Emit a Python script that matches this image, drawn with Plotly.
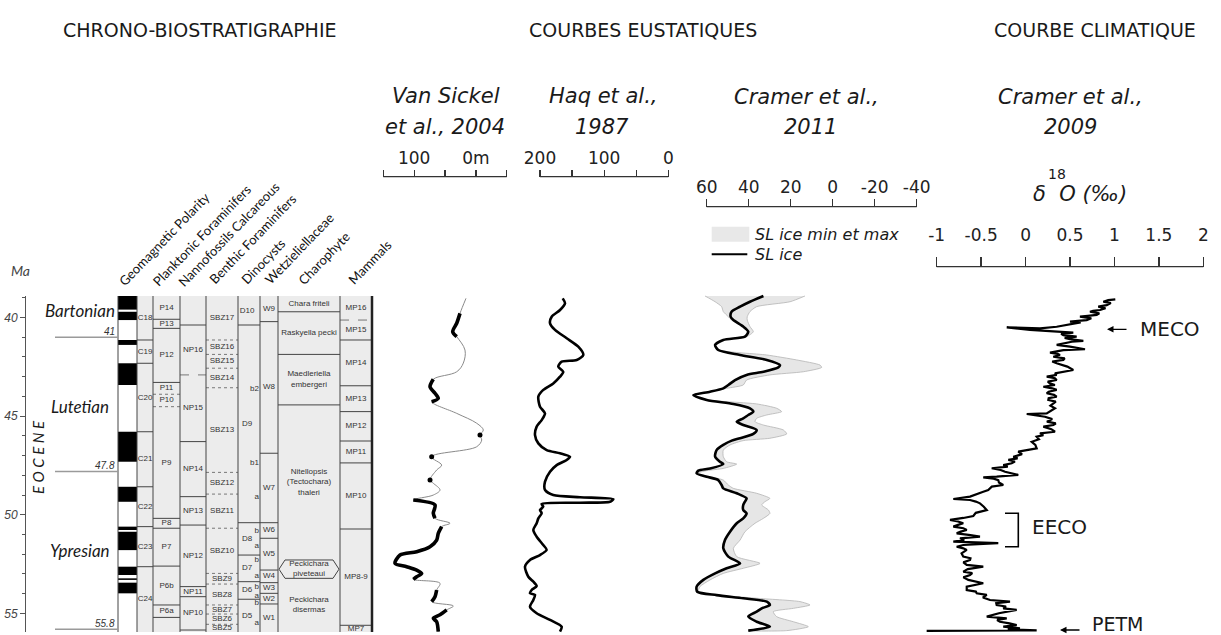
import plotly.graph_objects as go

W, H = 1221, 635

# ---------------- chronostratigraphy (ages in Ma) ----------------
AGE_TOP = 38.91
AGE_BASE = 55.94

STAGES = ["Bartonian", "Lutetian", "Ypresian"]
STAGE_LIMITS = [41.0, 47.8, 55.8]
STAGE_LIMIT_LABELS = ["41", "47.8", "55.8"]

# geomagnetic polarity: normal (black) intervals
POL_NORMAL_TOP = [38.91, 39.71, 41.14, 42.32, 45.79, 48.58, 50.60, 50.86, 52.63, 53.22, 53.44]
POL_NORMAL_BASE = [39.60, 40.13, 41.39, 43.42, 47.31, 49.34, 50.77, 51.79, 53.05, 53.30, 53.98]

CHRONS = ["C18", "C19", "C20", "C21", "C22", "C23", "C24"]
CHRON_BASES = [41.14, 42.32, 45.79, 48.58, 50.60, 52.63, 55.94]

PF_ZONES = ["P14", "P13", "P12", "P11", "P10", "P9", "P8", "P7", "P6b", "P6a", ""]
PF_BASES = [40.09, 40.55, 43.29, 43.89, 44.52, 50.18, 50.68, 52.60, 54.57, 55.20, 55.94]
PF_DOTTED = [43.89, 44.52]

NP_ZONES = ["", "NP16", "NP15", "NP14", "NP13", "NP12", "NP11", "NP10", ""]
NP_BASES = [40.38, 42.91, 46.29, 49.08, 50.52, 53.64, 54.15, 55.84, 55.94]
NP_DASHED = [42.91]

SBZ_ZONES = ["SBZ17", "SBZ16", "SBZ15", "SBZ14", "SBZ13", "SBZ12", "SBZ11",
             "SBZ10", "SBZ9", "SBZ8", "SBZ7", "SBZ6", "SBZ5"]
SBZ_BASES = [41.14, 41.87, 42.57, 43.56, 47.85, 48.95, 50.68, 52.97, 53.51, 54.57, 55.03, 55.55, 55.94]

DINO_ZONES = ["D10", "D9", "D8", "D7", "D6", "D5"]
DINO_BASES = [40.38, 50.40, 52.04, 53.39, 54.28, 55.94]
DINO_SUBZONES = ["b2", "b1", "a", "b", "a", "b", "a", "b", "a", "b", "a"]
DINO_SUBZONE_AGES = [43.64, 47.36, 49.08, 50.80, 51.58, 52.29, 53.10, 53.64, 54.10, 54.49, 55.47]

WETZ_ZONES = ["W9", "W8", "W7", "W6", "W5", "W4", "W3", "W2", "W1"]
WETZ_BASES = [40.21, 46.88, 50.40, 51.19, 52.80, 53.44, 53.98, 54.52, 55.94]

CHARA_ZONES = ["Chara friteli", "Raskyella pecki", "Maedleriella<br>embergeri",
               "Nitellopsis<br>(Tectochara)<br>thaleri", "Peckichara<br>piveteaui",
               "Peckichara<br>disermas"]
CHARA_BASES = [39.71, 41.87, 44.43, 52.29, 53.22, 55.94]
CHARA_BOXED = [False, False, False, False, True, False]

MP_ZONES = ["MP16", "MP15", "MP14", "MP13", "MP12", "MP11", "MP10", "MP8-9", "MP7"]
MP_BASES = [40.13, 41.14, 43.46, 44.77, 46.26, 47.37, 50.72, 55.60, 55.94]
MP_DASHED = [40.13]

# ---------------- eustatic curves ----------------
# Van Sickel et al., 2004 (m)
VS_AGE = [39.03, 39.79, 40.29, 40.72, 40.97, 41.65, 42.31, 42.75, 43.13, 43.51, 43.84, 44.10,
          44.27, 44.86, 45.36, 45.70, 45.96, 46.21, 46.55, 47.06, 47.48, 47.73, 48.24, 48.40,
          48.74, 49.00, 49.25, 49.50, 49.92, 50.18, 50.43, 50.60, 50.94, 51.28, 51.62, 51.87,
          52.04, 52.46, 52.63, 52.80, 52.97, 53.14, 53.27, 53.47, 53.81, 54.15, 54.40, 54.62,
          54.82, 55.07, 55.25, 55.42, 55.92]
VS_M = [16.0, 25.7, 31.0, 37.5, 31.0, 17.6, 20.3, 31.0, 69.0, 74.3, 66.2, 60.9,
        71.6, 31.0, -1.4, -12.1, -6.7, -9.5, -1.4, 71.6, 55.4, 63.5, 74.3, 69.0,
        58.1, 69.0, 101.4, 66.2, 69.0, 66.2, 41.9, 55.4, 60.9, 63.5, 74.3, 95.9,
        122.9, 131.0, 112.1, 95.9, 87.8, 95.9, 101.4, 58.1, 63.5, 66.2, 71.6, 36.6,
        47.3, 58.1, 69.0, 63.5, 60.9]
# well-constrained intervals (bold) and isolated control points
VS_BOLD_TOP = [39.79, 43.13, 49.25, 50.60, 53.81, 54.82]
VS_BOLD_BASE = [40.97, 44.27, 50.18, 53.27, 54.40, 55.92]
VS_POINT_AGES = [45.96, 47.06, 48.24]

# Haq et al., 1987 (m)
HAQ_AGE = [39.03, 39.28, 39.62, 39.96, 40.29, 40.63, 41.05, 41.48, 41.90, 42.15, 42.24, 42.49,
           42.75, 43.00, 43.34, 43.67, 44.01, 44.52, 44.86, 45.20, 45.53, 45.96, 46.38, 46.72,
           46.88, 47.06, 47.22, 47.48, 47.82, 48.32, 48.74, 49.00, 49.11, 49.21, 49.34, 49.39,
           49.45, 49.59, 49.76, 49.92, 50.18, 50.43, 50.77, 51.11, 51.53, 51.78, 52.04, 52.29,
           52.63, 53.14, 53.39, 53.61, 53.81, 53.98, 54.06, 54.32, 54.66, 54.99, 55.33, 55.67,
           55.92]
HAQ_M = [164.6, 161.0, 168.8, 181.8, 184.4, 176.6, 158.4, 140.3, 132.5, 142.8, 166.2, 171.5,
         163.7, 168.8, 179.3, 194.9, 202.6, 200.0, 192.2, 197.4, 205.2, 207.8, 202.6, 189.6,
         168.8, 153.2, 158.4, 174.0, 184.4, 192.2, 192.2, 179.3, 137.6, 85.7, 90.9, 137.6,
         197.4, 194.9, 200.0, 197.4, 202.6, 205.2, 210.4, 205.2, 194.9, 189.6, 200.0, 215.6,
         223.4, 218.2, 210.4, 205.2, 213.0, 215.6, 207.8, 210.4, 215.6, 205.2, 184.4, 166.2,
         168.8]

# Cramer et al., 2011 (m): SL ice and its min / max envelope
C11_AGE = [38.91, 39.20, 39.45, 39.70, 39.96, 40.13, 40.46, 40.72, 40.97, 41.14, 41.39, 41.65,
           41.90, 42.15, 42.41, 42.53, 42.75, 42.91, 43.17, 43.42, 43.59, 43.76, 43.93, 44.18,
           44.38, 44.60, 44.77, 44.94, 45.11, 45.28, 45.45, 45.70, 45.90, 46.12, 46.24, 46.46,
           46.72, 47.05, 47.31, 47.43, 47.65, 47.76, 47.90, 48.07, 48.24, 48.49, 48.66, 48.91,
           49.17, 49.33, 49.50, 49.76, 49.93, 50.18, 50.43, 50.86, 51.28, 51.70, 52.12, 52.46,
           52.71, 52.97, 53.30, 53.64, 53.90, 54.07, 54.23, 54.40, 54.57, 54.74, 54.91, 55.16,
           55.42, 55.67, 55.87]
C11_SL = [33.0, 39.4, 44.1, 48.1, 48.6, 47.3, 42.6, 40.2, 41.8, 52.1, 56.0, 54.5,
          44.1, 31.4, 25.1, 25.9, 33.0, 41.0, 46.5, 49.7, 52.1, 58.4, 66.4, 60.0,
          47.3, 39.4, 37.8, 40.2, 42.6, 45.7, 42.6, 36.2, 37.8, 44.1, 48.1, 52.1,
          55.3, 56.0, 53.7, 52.1, 58.4, 64.0, 64.8, 60.0, 54.5, 52.9, 52.1, 45.7,
          41.0, 41.8, 42.6, 42.6, 41.0, 42.6, 45.7, 48.9, 51.3, 52.1, 49.7, 44.1,
          50.5, 56.0, 61.6, 64.8, 64.5, 55.3, 42.6, 31.4, 29.9, 33.8, 36.2, 40.2,
          36.2, 29.9, 40.2]
C11_MAX = [60.8, 56.0, 52.9, 52.1, 49.7, 48.1, 42.6, 40.2, 41.8, 52.1, 56.0, 54.5,
           44.1, 31.4, 25.1, 25.9, 33.0, 41.0, 46.5, 49.7, 52.1, 58.4, 66.4, 60.0,
           47.3, 39.4, 37.8, 40.2, 42.6, 45.7, 42.6, 36.2, 37.8, 44.1, 48.1, 52.1,
           55.3, 56.0, 53.7, 52.1, 58.4, 64.0, 64.8, 60.0, 54.5, 52.9, 52.1, 45.7,
           41.0, 41.8, 42.6, 42.6, 41.0, 42.6, 45.7, 48.9, 51.3, 52.1, 49.7, 44.1,
           50.5, 56.0, 61.6, 64.8, 64.5, 55.3, 42.6, 31.4, 29.9, 33.8, 36.2, 40.2,
           36.2, 29.9, 40.2]
C11_MIN = [13.2, 20.3, 36.2, 39.4, 40.7, 40.7, 39.4, 37.8, 41.0, 52.1, 56.0, 53.7,
           31.4, 17.2, 6.05, 5.25, 14.0, 29.9, 41.0, 42.6, 50.5, 58.4, 66.4, 59.2,
           36.2, 26.7, 24.3, 31.4, 36.2, 37.0, 33.0, 23.5, 21.9, 29.9, 42.6, 48.9,
           52.1, 52.1, 50.5, 45.7, 52.1, 60.0, 64.8, 58.4, 52.1, 49.7, 47.3, 36.2,
           29.9, 32.2, 33.8, 30.6, 29.9, 33.0, 37.0, 41.8, 44.1, 47.3, 45.7, 34.6,
           42.6, 52.1, 58.4, 63.2, 64.0, 53.7, 36.2, 15.6, 10.8, 18.7, 28.3, 26.7,
           18.7, 11.6, 21.9]

# ---------------- climatic curve: Cramer et al., 2009 (d18O, permil) ----------------
D18O_AGE = [39.08, 39.12, 39.20, 39.27, 39.37, 39.41, 39.45, 39.53, 39.62, 39.66,
            39.71, 39.79, 39.87, 39.92, 39.96, 40.04, 40.13, 40.17, 40.21, 40.25,
            40.29, 40.38, 40.47, 40.55, 40.50, 40.63, 40.72, 40.77, 40.83, 40.89,
            40.97, 41.03, 41.10, 41.18, 41.23, 41.28, 41.39, 41.48, 41.61, 41.65,
            41.78, 41.84, 41.90, 41.99, 42.07, 42.15, 42.23, 42.32, 42.49, 42.66,
            42.75, 42.83, 42.91, 43.00, 43.08, 43.17, 43.25, 43.34, 43.42, 43.51,
            43.59, 43.67, 43.76, 43.84, 43.92, 44.01, 44.09, 44.18, 44.26, 44.35,
            44.47, 44.60, 44.73, 44.86, 44.89, 45.03, 45.15, 45.28, 45.37, 45.45,
            45.53, 45.66, 45.79, 45.87, 45.96, 46.04, 46.17, 46.30, 46.46, 46.63,
            46.72, 46.80, 46.93, 47.06, 47.14, 47.22, 47.30, 47.39, 47.48, 47.56,
            47.64, 47.73, 47.82, 47.90, 47.98, 48.07, 48.10, 48.17, 48.24, 48.36,
            48.49, 48.57, 48.66, 48.74, 48.83, 48.95, 49.08, 49.20, 49.25, 49.33,
            49.42, 49.59, 49.76, 49.90, 50.06, 50.16, 50.26, 50.34, 50.43, 50.51,
            50.60, 50.68, 50.77, 50.85, 50.94, 51.02, 51.11, 51.19, 51.28, 51.36,
            51.44, 51.53, 51.62, 51.70, 51.78, 51.95, 52.12, 52.20, 52.29, 52.41,
            52.54, 52.63, 52.75, 52.88, 52.96, 53.05, 53.17, 53.30, 53.38, 53.47,
            53.64, 53.81, 53.89, 53.98, 54.06, 54.19, 54.32, 54.40, 54.48, 54.57,
            54.65, 54.74, 54.82, 54.99, 55.16, 55.25, 55.33, 55.42, 55.50, 55.59,
            55.67, 55.75, 55.80, 55.86, 55.88]
D18O = [1.01, 0.930, 0.875, 0.960, 0.913, 0.860, 0.818, 0.900, 0.838, 0.760,
        0.725, 0.830, 0.800, 0.700, 0.612, 0.740, 0.688, 0.590, 0.500, 0.620,
        0.575, 0.470, 0.350, 0.162, -0.212, 0.050, 0.350, 0.537, 0.400, 0.425,
        0.575, 0.440, 0.500, 0.650, 0.520, 0.463, 0.350, 0.500, 0.669, 0.425,
        0.275, 0.360, 0.387, 0.312, 0.440, 0.425, 0.300, 0.350, 0.470, 0.537,
        0.425, 0.330, 0.350, 0.238, 0.330, 0.350, 0.250, 0.275, 0.330, 0.200,
        0.300, 0.350, 0.260, 0.238, 0.320, 0.350, 0.260, 0.256, 0.340, 0.312,
        0.280, 0.331, 0.290, 0.238, 0.013, 0.219, 0.300, 0.240, 0.340, 0.312,
        0.200, 0.290, 0.331, 0.162, 0.200, 0.125, 0.150, 0.069, 0.110, 0.125,
        0.013, -0.082, -0.040, -0.138, -0.090, -0.194, -0.120, -0.156, -0.251, -0.200,
        -0.381, -0.280, -0.231, -0.150, -0.082, -0.325, -0.476, -0.360, -0.307, -0.300,
        -0.251, -0.380, -0.400, -0.420, -0.476, -0.560, -0.625, -0.813, -0.625, -0.560,
        -0.513, -0.470, -0.437, -0.560, -0.588, -0.700, -0.850, -0.760, -0.701, -0.760,
        -0.813, -0.700, -0.662, -0.730, -0.775, -0.640, -0.513, -0.738, -0.690, -0.813,
        -0.307, -0.701, -0.775, -0.700, -0.662, -0.720, -0.701, -0.620, -0.625, -0.700,
        -0.662, -0.476, -0.650, -0.701, -0.600, -0.625, -0.700, -0.644, -0.560, -0.476,
        -0.662, -0.662, -0.560, -0.550, -0.437, -0.480, -0.400, -0.175, -0.330, -0.325,
        -0.220, -0.251, -0.100, -0.300, -0.437, -0.212, -0.320, -0.288, -0.180, -0.100,
        -0.251, -0.063, -0.200, 0.125, -1.113]

MECO_AGE = 40.6
EECO_TOP, EECO_BASE = 49.92, 51.62
PETM_AGE = 55.84

# ---------------- page geometry ----------------
PX_AT_40, PX_PER_MA = 317.5, 19.73


def ma_at(py):
    return 40 + (py - PX_AT_40) / PX_PER_MA


def fx(x):
    return x / W


def fy(y):
    return 1 - y / H


def xrange_for(v0, p0, v1, p1, d0, d1):
    k = (v1 - v0) / (p1 - p0)
    return [v0 + (d0 - p0) * k, v0 + (d1 - p0) * k]


COL_EDGES = [118, 137, 153, 180, 206, 238, 260, 278, 340, 372]
LINE_C = "#444"
FILL_C = "#ececec"
SANS = "DejaVu Sans"
NARROW = "Liberation Sans Narrow, Liberation Sans, Arial"
HUMAN = "Lato, Open Sans, sans-serif"

shapes = []


def hline(x0, x1, y, dash="solid", color=LINE_C, width=1):
    shapes.append(dict(type="line", xref="x", yref="y", x0=x0, x1=x1, y0=y, y1=y,
                       line=dict(color=color, width=width, dash=dash), layer="below"))


# column backgrounds
for i in range(len(COL_EDGES) - 1):
    shapes.append(dict(type="rect", xref="x", yref="y", x0=COL_EDGES[i], x1=COL_EDGES[i + 1],
                       y0=AGE_TOP, y1=AGE_BASE, fillcolor="white" if i == 0 else FILL_C,
                       line=dict(width=0), layer="below"))
# normal polarity chrons
for t, b in zip(POL_NORMAL_TOP, POL_NORMAL_BASE):
    shapes.append(dict(type="rect", xref="x", yref="y", x0=COL_EDGES[0], x1=COL_EDGES[1],
                       y0=t, y1=b, fillcolor="black", line=dict(width=0), layer="below"))

lab_x, lab_y, lab_t = [], [], []


def zone_column(names, bases, x0, x1, dashed=(), dash="dot", all_dashed=False, lx=None):
    tops = [AGE_TOP] + bases[:-1]
    for name, t, b in zip(names, tops, bases):
        if name:
            lab_x.append((x0 + x1) / 2 if lx is None else lx)
            lab_y.append((t + b) / 2)
            lab_t.append(name)
    for b in bases[:-1]:
        d = dash if (all_dashed or b in dashed) else "solid"
        hline(x0, x1, b, dash=d, color="#777" if d != "solid" else LINE_C)


zone_column(CHRONS, CHRON_BASES, 137, 153)
zone_column(PF_ZONES, PF_BASES, 153, 180, dashed=PF_DOTTED, dash="dot")
zone_column(NP_ZONES, NP_BASES, 180, 206, dashed=NP_DASHED, dash="dash")
zone_column(SBZ_ZONES, SBZ_BASES, 206, 238, all_dashed=True, dash="dot")
zone_column(DINO_ZONES, DINO_BASES, 238, 260, lx=247)
zone_column(WETZ_ZONES, WETZ_BASES, 260, 278)
zone_column(MP_ZONES, MP_BASES, 340, 372, dashed=MP_DASHED, dash="dash")

# charophytes, with the bracketed interval zone
ch_tops = [AGE_TOP] + CHARA_BASES[:-1]
for name, t, b, boxed in zip(CHARA_ZONES, ch_tops, CHARA_BASES, CHARA_BOXED):
    lab_x.append(309)
    lab_y.append((t + b) / 2)
    lab_t.append(name)
    if boxed:
        m = (t + b) / 2
        shapes.append(dict(type="path", xref="x", yref="y", layer="below",
                           path=f"M 279,{m} L 285,{t} L 333,{t} L 339,{m} L 333,{b} L 285,{b} Z",
                           fillcolor=FILL_C, line=dict(color=LINE_C, width=1)))
for k, b in enumerate(CHARA_BASES[:-1]):
    if not (CHARA_BOXED[k] or CHARA_BOXED[k + 1]):
        hline(278, 340, b)

# vertical column separators
for i, e in enumerate(COL_EDGES):
    last = i == len(COL_EDGES) - 1
    shapes.append(dict(type="line", xref="x", yref="y", x0=e, x1=e, y0=AGE_TOP, y1=AGE_BASE,
                       line=dict(color="#222" if last else LINE_C, width=2.5 if last else 1),
                       layer="below"))

# stage limits
for lim in STAGE_LIMITS:
    shapes.append(dict(type="line", xref="x", yref="y", x0=55, x1=118, y0=lim, y1=lim,
                       line=dict(color="#9a9a9a", width=1.5), layer="below"))

fig = go.Figure()

fig.add_trace(go.Scatter(x=lab_x, y=lab_y, text=lab_t, mode="text", xaxis="x", yaxis="y",
                         textfont=dict(family="Liberation Sans, Arial", size=8, color="#333"),
                         hoverinfo="skip", cliponaxis=False))
fig.add_trace(go.Scatter(x=[259] * len(DINO_SUBZONES), y=DINO_SUBZONE_AGES, text=DINO_SUBZONES,
                         mode="text", textposition="middle left", xaxis="x", yaxis="y",
                         textfont=dict(family="Liberation Sans, Arial", size=8, color="#333"),
                         hoverinfo="skip"))

# ---- Van Sickel et al., 2004
fig.add_trace(go.Scatter(x=VS_M, y=VS_AGE, mode="lines", xaxis="x2", yaxis="y2",
                         line=dict(color="#8a8a8a", width=1, shape="spline", smoothing=1),
                         hoverinfo="skip"))
for t, b in zip(VS_BOLD_TOP, VS_BOLD_BASE):
    seg = [(m, a) for m, a in zip(VS_M, VS_AGE) if t <= a <= b]
    fig.add_trace(go.Scatter(x=[s[0] for s in seg], y=[s[1] for s in seg], mode="lines",
                             xaxis="x2", yaxis="y2", hoverinfo="skip",
                             line=dict(color="black", width=3.6, shape="spline", smoothing=0.8)))
pts = [(m, a) for m, a in zip(VS_M, VS_AGE) if a in VS_POINT_AGES]
fig.add_trace(go.Scatter(x=[p[0] for p in pts], y=[p[1] for p in pts], mode="markers",
                         xaxis="x2", yaxis="y2", marker=dict(color="black", size=5),
                         hoverinfo="skip"))

# ---- Haq et al., 1987
fig.add_trace(go.Scatter(x=HAQ_M, y=HAQ_AGE, mode="lines", xaxis="x3", yaxis="y2",
                         line=dict(color="black", width=2.6, shape="spline", smoothing=0.7),
                         hoverinfo="skip"))

# ---- Cramer et al., 2011
fig.add_trace(go.Scatter(x=C11_MAX + C11_MIN[::-1], y=C11_AGE + C11_AGE[::-1], mode="lines",
                         fill="toself", fillcolor="#e6e6e6", xaxis="x4", yaxis="y2",
                         line=dict(color="#b4b4b4", width=0.8, shape="spline", smoothing=0.6),
                         hoverinfo="skip"))
fig.add_trace(go.Scatter(x=C11_SL, y=C11_AGE, mode="lines", xaxis="x4", yaxis="y2",
                         line=dict(color="black", width=2.6, shape="spline", smoothing=0.7),
                         hoverinfo="skip"))

# ---- Cramer et al., 2009
fig.add_trace(go.Scatter(x=D18O, y=D18O_AGE, mode="lines", xaxis="x5", yaxis="y2",
                         line=dict(color="black", width=2.2), hoverinfo="skip"))

# ---------------- axes ----------------
scale_font = dict(family=SANS, size=17, color="#222")


def scale_axis(dom, rng, pos, vals, texts, ticklen, standoff):
    return dict(domain=[fx(dom[0]), fx(dom[1])], range=rng, anchor="free", position=fy(pos),
                side="top", showline=False, showgrid=False, zeroline=False,
                tickmode="array", tickvals=vals, ticktext=texts, ticks="outside",
                ticklen=ticklen, tickwidth=1.3, tickcolor="#333", tickfont=scale_font,
                ticklabelstandoff=standoff, fixedrange=True)


VS_AX = (150, 383.3, -50, 506.7)
HAQ_AX = (200, 540, 0, 668.3)
C11_AX = (60, 706.7, -40, 916.7)
D18_AX = (-1, 936.7, 2, 1203.3)

layout_axes = dict(
    xaxis=dict(domain=[0, fx(380)], range=[0, 380], visible=False, anchor="free", position=0,
               fixedrange=True),
    yaxis=dict(domain=[fy(632), fy(296)], range=[ma_at(632), ma_at(296)], anchor="free",
               position=fx(25), side="left", showline=True, linecolor="#555", linewidth=1,
               ticks="outside", ticklen=5, tickcolor="#555", tick0=40, dtick=5,
               tickfont=dict(family=NARROW, size=12, color="#444", style="italic"),
               minor=dict(ticks="outside", dtick=1, ticklen=3, tickcolor="#555"),
               showgrid=False, zeroline=False, fixedrange=True),
    yaxis2=dict(domain=[0, 1], range=[ma_at(H), ma_at(0)], visible=False, anchor="free",
                position=0, fixedrange=True),
    xaxis2=scale_axis((380, 515), xrange_for(*VS_AX, 380, 515), 176.7,
                      [150, 100, 50, 0, -50], ["", "100", "", "0m", ""], 7, -1),
    xaxis3=scale_axis((515, 680), xrange_for(*HAQ_AX, 515, 680), 176.7,
                      [200, 150, 100, 50, 0], ["200", "", "100", "", "0"], 7, -1),
    xaxis4=scale_axis((690, 930), xrange_for(*C11_AX, 690, 930), 206.7,
                      [60, 40, 20, 0, -20, -40], ["60", "40", "20", "0", "-20", "-40"], 8, -1),
    xaxis5=scale_axis((920, 1215), xrange_for(*D18_AX, 920, 1215), 266.7,
                      [-1, -0.5, 0, 0.5, 1, 1.5, 2],
                      ["-1", "-0.5", "0", "0.5", "1", "1.5", "2"], 10, 9),
)

# scale bar lines
for ax, (v0, _, v1, _), pos in [("x2", VS_AX, 176.7), ("x3", HAQ_AX, 176.7),
                                ("x4", C11_AX, 206.7), ("x5", D18_AX, 266.7)]:
    shapes.append(dict(type="line", xref=ax, yref="paper", x0=v0, x1=v1, y0=fy(pos), y1=fy(pos),
                       line=dict(color="#333", width=1.3)))

# Cramer 2011 legend
shapes.append(dict(type="rect", xref="paper", yref="paper", x0=fx(711.7), x1=fx(749.3),
                   y0=fy(241.7), y1=fy(226.7), fillcolor="#e8e8e8", line=dict(width=0)))
shapes.append(dict(type="line", xref="paper", yref="paper", x0=fx(711.7), x1=fx(747.3),
                   y0=fy(254.3), y1=fy(254.3), line=dict(color="black", width=2)))

# EECO bracket
shapes.append(dict(type="path", xref="paper", yref="y2",
                   path=f"M {fx(1005)},{EECO_TOP} L {fx(1018.3)},{EECO_TOP} "
                        f"L {fx(1018.3)},{EECO_BASE} L {fx(1005)},{EECO_BASE}",
                   line=dict(color="black", width=1.6)))

# ---------------- annotations ----------------
ann = []


def text(x, y, s, size, family=SANS, italic=False, color="#1a1a1a", xanchor="center",
         yref="paper", angle=0, yanchor="middle", yshift=0):
    ann.append(dict(x=fx(x), y=fy(y) if yref == "paper" else y, xref="paper", yref=yref,
                    text=s, showarrow=False, xanchor=xanchor, yanchor=yanchor,
                    textangle=angle, yshift=yshift,
                    font=dict(family=family, size=size, color=color,
                              style="italic" if italic else "normal")))


text(200, 30, "CHRONO-BIOSTRATIGRAPHIE", 19)
text(643, 30, "COURBES EUSTATIQUES", 19)
text(1095, 30, "COURBE CLIMATIQUE", 19)

text(446, 96, "Van Sickel", 21, italic=True)
text(445, 127, "et al., 2004", 21, italic=True)
text(603, 96, "Haq et al.,", 21, italic=True)
text(602, 127, "1987", 21, italic=True)
text(806, 97, "Cramer et al.,", 21, italic=True)
text(810, 127, "2011", 21, italic=True)
text(1070, 97, "Cramer et al.,", 21, italic=True)
text(1070, 127, "2009", 21, italic=True)

text(1057, 174, "18", 14)
text(1080, 194, "δ  O (‰)", 21, italic=True)

text(753, 234.5, "SL ice min et max", 16, italic=True, xanchor="left")
text(753, 254.3, "SL ice", 16, italic=True, xanchor="left")

# left panel
text(20, 271, "Ma", 14, family=HUMAN, italic=True, color="#444")
text(80, 310.7, STAGES[0], 17, family=HUMAN, italic=True)
text(80, 406.7, STAGES[1], 17, family=HUMAN, italic=True)
text(80, 550, STAGES[2], 17, family=HUMAN, italic=True)
text(38, 457, "E O C E N E", 15, family=HUMAN, italic=True, angle=-90)
for lim, lab in zip(STAGE_LIMITS, STAGE_LIMIT_LABELS):
    text(117, lim, lab, 10, family=NARROW, italic=True, color="#333", xanchor="right",
         yref="y", yshift=6)

HEADERS = ["Geomagnetic Polarity", "Planktonic Foraminifers", "Nannofossils Calcareous",
           "Benthic Foraminifers", "Dinocysts", "Wetzieliellaceae", "Charophyte", "Mammals"]
HEADER_FOOT = [(123, 292), (157, 292), (182, 292), (213, 290), (245, 290), (268, 290),
               (302, 290), (352, 290)]
for h, (hx, hy) in zip(HEADERS, HEADER_FOOT):
    ann.append(dict(x=fx(hx - 10), y=fy(hy), xref="paper", yref="paper", text=h,
                    showarrow=False, xanchor="left", yanchor="bottom", textangle=-46,
                    font=dict(family=HUMAN, size=13, color="#111")))

# climatic events
for tip, tail, age in [(1107, 1128, MECO_AGE), (1060, 1081, PETM_AGE)]:
    ann.append(dict(x=fx(tip), y=age, xref="paper", yref="y2", ax=tail - tip, ay=0,
                    text="", showarrow=True, arrowhead=2, arrowsize=1, arrowwidth=1.3,
                    arrowcolor="black"))
text(1138, MECO_AGE, "MECO", 20, xanchor="left", yref="y2")
text(1030, (EECO_TOP + EECO_BASE) / 2, "EECO", 20, xanchor="left", yref="y2", yshift=3)
text(1090, PETM_AGE, "PETM", 19, xanchor="left", yref="y2", yshift=6)

fig.update_layout(
    width=W, height=H, margin=dict(l=0, r=0, t=0, b=0, pad=0),
    paper_bgcolor="white", plot_bgcolor="rgba(0,0,0,0)", showlegend=False,
    font=dict(family=SANS, color="#1a1a1a"), shapes=shapes, annotations=ann,
    hovermode=False, **layout_axes,
)

fig.write_html("out.html", config=dict(displayModeBar=False, staticPlot=True))
